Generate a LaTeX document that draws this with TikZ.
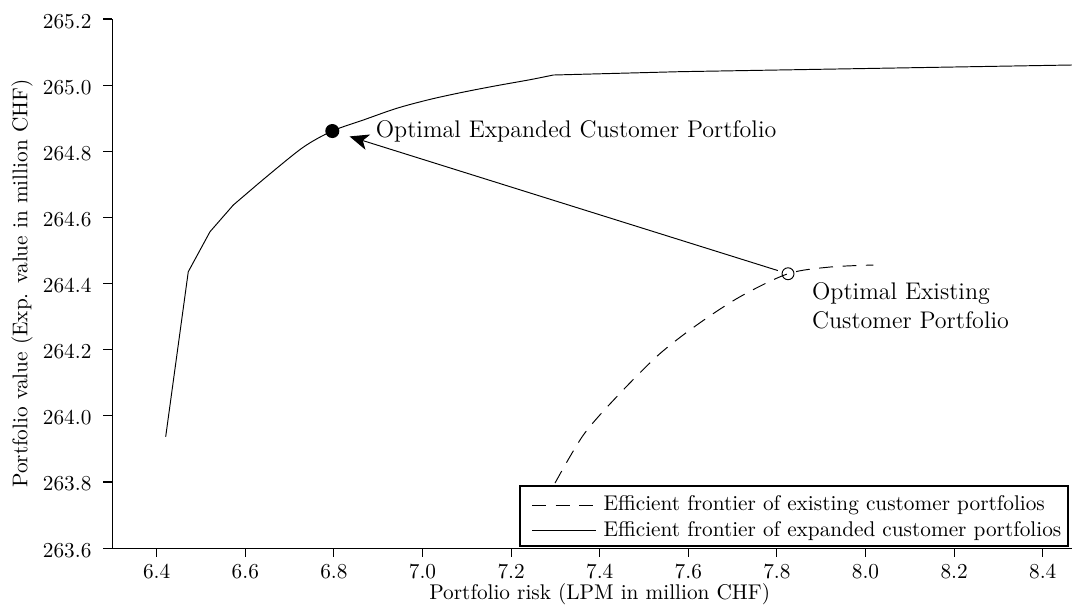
\documentclass[tikz,border=0pt]{standalone}
\usetikzlibrary{arrows.meta,positioning}

\begin{document}
\begin{tikzpicture}[x=208.2pt, y=155.4pt,
            axis/.style={line width=0.5pt},
            tick/.style={line width=0.5pt},
            frontier/.style={line width=0.45pt, line join=round},
            existfrontier/.style={frontier, dash pattern=on 6.5pt off 4.5pt},
            dot/.style={circle, fill, inner sep=0pt, minimum size=6.6pt},
            ring/.style={circle, draw, line width=0.45pt, inner sep=0pt, minimum size=5.6pt},
            arrow/.style={-{Stealth[length=9pt, width=7.5pt, inset=2.5pt]}, line width=0.45pt},
            note/.style={font=\fontsize{11.3}{13.6}\selectfont, inner sep=0pt, align=left},
            legendframe/.style={line width=0.8pt}]

        % picture origin is the data point (6.3, 263.6)
        \useasboundingbox (-0.2537,-0.1785) rectangle (2.1661,1.6576);

        \draw[axis] (0,1.6) -- (0,0) -- (2.2,0);
        \foreach \y/\v [count=\i] in {0.0/263.6, 0.2/263.8, 0.4/264.0, 0.6/264.2, 0.8/264.4,
                                     1.0/264.6, 1.2/264.8, 1.4/265.0, 1.6/265.2}
            \draw[tick] (0,\y) -- ++(-4.3pt,0) node[left, inner sep=0pt, xshift=-5.3pt, yshift=-1pt] (ytick\i) {\v};
        \foreach \x/\v [count=\i] in {0.1/6.4, 0.3/6.6, 0.5/6.8, 0.7/7.0, 0.9/7.2, 1.1/7.4,
                                     1.3/7.6, 1.5/7.8, 1.7/8.0, 1.9/8.2, 2.1/8.4}
            \draw[tick] (\x,0) -- ++(0,-4.3pt) node[below, inner sep=0pt, yshift=-3pt] (xtick\i) {\v};

        \node[anchor=base, inner sep=0pt] (xlabel) at (1.1,-0.1540) {Portfolio risk (LPM in million CHF)};
        \node[rotate=90, anchor=base, inner sep=0pt] (ylabel) at (-0.1917,0.8) {Portfolio value (Exp. value in million CHF)};

        % expanded customer portfolios
        \draw[frontier] (0.1203,0.3367) -- (0.1713,0.8358) -- (0.2203,0.9567) -- (0.2729,1.0375)
            -- plot[smooth, tension=0.5] coordinates {(0.3257,1.0980) (0.4273,1.2090) (0.4964,1.2613)
            (0.5664,1.2946) (0.6418,1.3300) (0.7169,1.3570) (0.7921,1.3790) (0.8675,1.3985)
            (0.9427,1.4165) (0.9953,1.4307)}
            -- (1.2813,1.4408) -- (2.1661,1.4610);
        % existing customer portfolios
        \draw[existfrontier] plot[smooth, tension=0.5] coordinates {(0.9991,0.1966) (1.0630,0.3418)
            (1.1384,0.4577) (1.2323,0.5838) (1.3190,0.6745) (1.4167,0.7601) (1.5251,0.8297)
            (1.6199,0.8500) (1.7176,0.8560)};

        \node[dot] (expanded) at (0.4964,1.2613) {};
        \node[ring] (existing) at (1.5251,0.8297) {};
        \draw[arrow, shorten <=2pt, shorten >=5pt] (existing) -- (expanded);

        \node[note, right=16.8pt of expanded] (expandedlabel) {Optimal Expanded Customer Portfolio};
        \node[note, below right=1.9pt and 9pt of existing] (existinglabel) {Optimal Existing\\Customer Portfolio};

        % legend
        \draw[legendframe] (0.9201,0.006) rectangle (2.1571,0.1875);
        \node[anchor=base west] (legexist) at (1.0919,0.1137) {Efficient frontier of existing customer portfolios};
        \node[anchor=base west] (legexpand) at (1.0919,0.0363) {Efficient frontier of expanded customer portfolios};
        \coordinate (legexiststart) at ([xshift=-30pt]legexist.west);
        \coordinate (legexpandstart) at ([xshift=-30pt]legexpand.west);
        \draw[existfrontier] (legexiststart) -- (legexist.west);
        \draw[frontier] (legexpandstart) -- (legexpand.west);
    \end{tikzpicture}
\end{document}
